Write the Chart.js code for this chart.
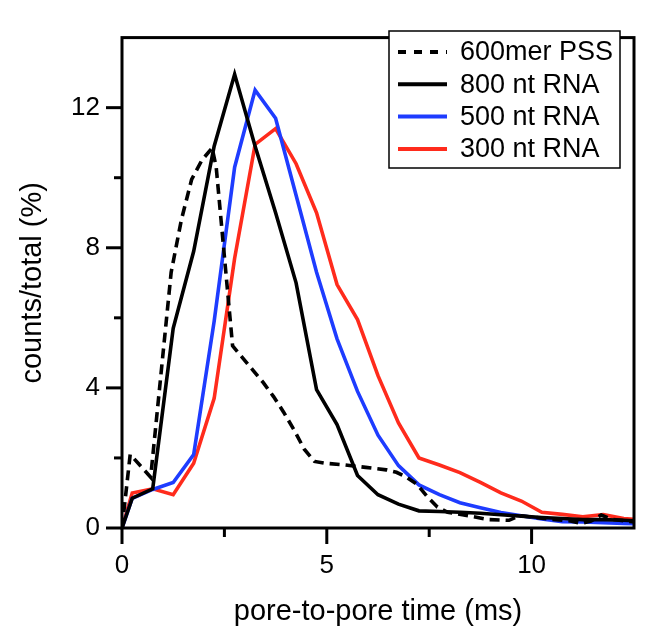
<!DOCTYPE html>
<html>
<head>
<meta charset="utf-8">
<script src="https://cdn.jsdelivr.net/npm/chart.js@4.4.1/dist/chart.umd.min.js"></script>
<style>
html, body { margin: 0; padding: 0; background: #fff; }
#wrap { width: 652px; height: 643px; }
</style>
</head>
<body>
<div id="wrap"><canvas id="transit-chart" width="652" height="643"></canvas></div>
<script>
"use strict";

//=> Data (pore-to-pore time in ms, counts/total in %)
var binTimes = [0, 0.25, 0.75, 1.25, 1.75, 2.25, 2.75, 3.25, 3.75, 4.25, 4.75, 5.25, 5.75, 6.25,
    6.75, 7.25, 7.75, 8.25, 8.75, 9.25, 9.75, 10.25, 10.75, 11.25, 11.75, 12.25, 12.75];
var rna800 = [0, 0.85, 1.12, 5.7, 7.9, 10.9, 12.95, 10.9, 9.0, 7.0, 3.95, 2.95, 1.5, 0.95,
    0.68, 0.49, 0.47, 0.45, 0.42, 0.38, 0.34, 0.3, 0.27, 0.24, 0.24, 0.22, 0.19];
var rna500 = [0, 0.85, 1.1, 1.3, 2.1, 5.9, 10.3, 12.5, 11.7, 9.5, 7.3, 5.4, 3.9, 2.65,
    1.78, 1.23, 0.95, 0.72, 0.58, 0.44, 0.35, 0.26, 0.18, 0.17, 0.15, 0.13, 0.12];
var rna300 = [0, 1.0, 1.12, 0.95, 1.85, 3.7, 7.7, 10.95, 11.4, 10.4, 9.0, 6.95, 5.95, 4.35,
    3.0, 2.0, 1.8, 1.58, 1.3, 1.0, 0.77, 0.45, 0.39, 0.32, 0.38, 0.27, 0.22];

var pssTimes = [0, 0.2, 0.7, 1.2, 1.45, 1.7, 1.95, 2.2, 2.3, 2.7, 2.95, 3.2, 3.45, 3.7, 3.95,
    4.2, 4.45, 4.7, 4.95, 5.45, 5.95, 6.45, 6.7, 6.95, 7.2, 7.45, 7.7, 7.95, 8.45, 8.95, 9.45,
    9.7, 9.95, 10.45, 10.95, 11.2, 11.45, 11.7, 11.95, 12.45, 12.7];
var pss600 = [0, 2.1, 1.45, 7.3, 8.8, 9.95, 10.5, 10.85, 10.3, 5.2, 4.85, 4.5, 4.15, 3.75, 3.3,
    2.8, 2.25, 1.9, 1.85, 1.8, 1.73, 1.66, 1.59, 1.45, 1.25, 0.9, 0.6, 0.45, 0.35, 0.24, 0.22,
    0.35, 0.32, 0.25, 0.2, 0.13, 0.2, 0.37, 0.25, 0.18, 0.15];

var seriesLabels = ['600mer PSS', '800 nt RNA', '500 nt RNA', '300 nt RNA'];
var xMajorTicks = [0, 5, 10];
var xMinorTicks = [2.5, 7.5];
var yMajorTicks = [0, 4, 8, 12];
var yMinorTicks = [2, 6, 10];

var FONT = '"Liberation Sans", Arial, Helvetica, sans-serif';

function toPoints(xs, ys) {
    return xs.map(function (x, i) { return { x: x, y: ys[i] }; });
}

//=> Frame, tick marks and boxed legend
var framePlugin = {
    id: 'frame',
    afterDraw: function (chart) {
        var ctx = chart.ctx;
        var area = chart.chartArea;
        var xs = chart.scales.x;
        var ys = chart.scales.y;

        ctx.save();
        ctx.strokeStyle = '#000';
        ctx.lineWidth = 3;
        ctx.lineCap = 'butt';

        var tick = function (x1, y1, x2, y2) {
            ctx.beginPath();
            ctx.moveTo(x1, y1);
            ctx.lineTo(x2, y2);
            ctx.stroke();
        };
        xMajorTicks.forEach(function (v) {
            var px = xs.getPixelForValue(v);
            tick(px, area.bottom, px, area.bottom + 16);
        });
        xMinorTicks.forEach(function (v) {
            var px = xs.getPixelForValue(v);
            tick(px, area.bottom, px, area.bottom + 9);
        });
        yMajorTicks.forEach(function (v) {
            var py = ys.getPixelForValue(v);
            tick(area.left - 16, py, area.left, py);
        });
        yMinorTicks.forEach(function (v) {
            var py = ys.getPixelForValue(v);
            tick(area.left - 8, py, area.left, py);
        });

        ctx.strokeRect(area.left, area.top, area.right - area.left, area.bottom - area.top);

        // legend box
        var box = { left: 389, top: 31, right: 620, bottom: 168 };
        ctx.fillStyle = '#fff';
        ctx.fillRect(box.left, box.top, box.right - box.left, box.bottom - box.top);
        ctx.lineWidth = 1.5;
        ctx.strokeRect(box.left, box.top, box.right - box.left, box.bottom - box.top);

        ctx.font = '27px ' + FONT;
        ctx.textBaseline = 'middle';
        ctx.textAlign = 'left';
        chart.data.datasets.forEach(function (ds, i) {
            var y = 52 + i * 32.3;
            ctx.strokeStyle = ds.borderColor;
            ctx.lineWidth = 4;
            ctx.setLineDash(ds.borderDash ? [8, 8] : []);
            tick(398, y, 447, y);
            ctx.setLineDash([]);
            ctx.fillStyle = '#000';
            ctx.fillText(ds.label, 460, y + 1);
        });
        ctx.restore();
    }
};

var ctx = document.getElementById('transit-chart').getContext('2d');
var myChart = new Chart(ctx, {
    type: 'line',
    data: {
        datasets: [{
            label: seriesLabels[0],
            data: toPoints(pssTimes, pss600),
            borderColor: '#000000',
            borderDash: [10, 6]
        }, {
            label: seriesLabels[1],
            data: toPoints(binTimes, rna800),
            borderColor: '#000000'
        }, {
            label: seriesLabels[2],
            data: toPoints(binTimes, rna500),
            borderColor: '#1e3cff'
        }, {
            label: seriesLabels[3],
            data: toPoints(binTimes, rna300),
            borderColor: '#ff2b1c'
        }]
    },
    options: {
        responsive: false,
        animation: false,
        devicePixelRatio: 1,
        layout: { padding: { left: 0, top: 16, right: 18, bottom: 0 } },
        elements: {
            point: { radius: 0 },
            line: { borderWidth: 3.6, tension: 0, borderJoinStyle: 'miter', fill: false }
        },
        plugins: {
            legend: { display: false },
            tooltip: { enabled: false }
        },
        scales: {
            x: {
                type: 'linear',
                min: 0,
                max: 12.5,
                afterBuildTicks: function (s) {
                    s.ticks = xMajorTicks.map(function (v) { return { value: v }; });
                },
                afterFit: function (s) { s.height = 115; },
                grid: { display: false, drawTicks: false },
                border: { display: false },
                ticks: {
                    color: '#000',
                    padding: 22,
                    maxRotation: 0,
                    font: { family: FONT, size: 26 }
                },
                title: {
                    display: true,
                    text: 'pore-to-pore time (ms)',
                    color: '#000',
                    padding: { top: 0, bottom: 14 },
                    font: { family: FONT, size: 29 }
                }
            },
            y: {
                type: 'linear',
                min: 0,
                max: 14,
                afterBuildTicks: function (s) {
                    s.ticks = yMajorTicks.map(function (v) { return { value: v }; });
                },
                afterFit: function (s) { s.width = 122; },
                grid: { display: false, drawTicks: false },
                border: { display: false },
                ticks: {
                    color: '#000',
                    padding: 22,
                    font: { family: FONT, size: 26 }
                },
                title: {
                    display: true,
                    text: 'counts/total (%)',
                    color: '#000',
                    padding: { top: 16, bottom: 0 },
                    font: { family: FONT, size: 29 }
                }
            }
        }
    },
    plugins: [framePlugin]
});
</script>
</body>
</html>
